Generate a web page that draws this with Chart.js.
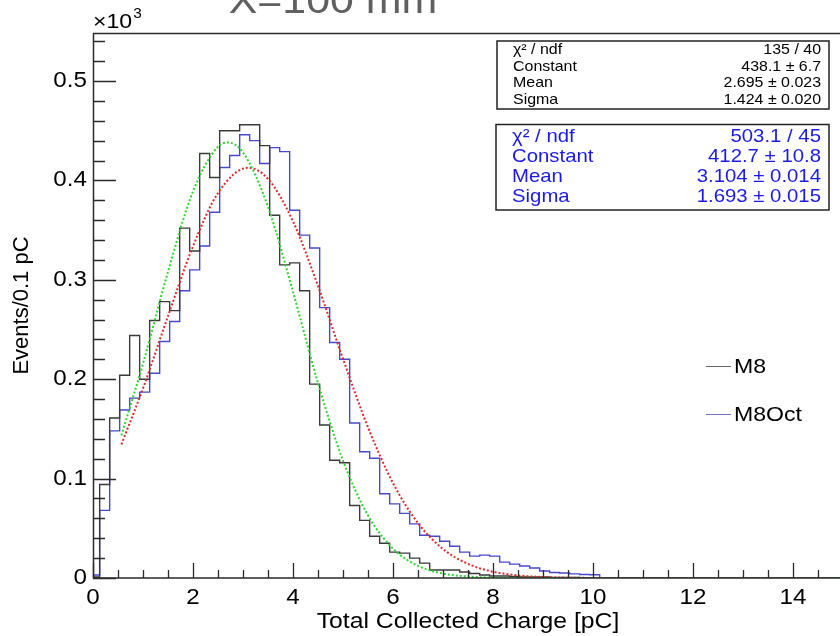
<!DOCTYPE html>
<html>
<head>
<meta charset="utf-8">
<script src="https://cdn.jsdelivr.net/npm/chart.js@4.4.1/dist/chart.umd.min.js"></script>
<style>
  html, body { margin: 0; padding: 0; background: #fff; }
  canvas { display: block; }
</style>
</head>
<body>
<canvas id="myChart" width="840" height="636"></canvas>
<script>
// histogram binning (pC)
const binLow = -0.0667;
const binWidth = 0.2;

// bin contents in units of 10^3 events, first bin starts at binLow
const m8Counts = [
  0.001, 0.094, 0.161, 0.204, 0.244, 0.200, 0.259, 0.278, 0.269, 0.352,
  0.329, 0.427, 0.403, 0.450, 0.450, 0.456, 0.456, 0.435, 0.365, 0.315,
  0.317, 0.289, 0.195, 0.154, 0.1185, 0.116, 0.073, 0.058, 0.042, 0.035,
  0.026, 0.025, 0.020, 0.015, 0.008, 0.008, 0.008, 0.006, 0.0045, 0.003,
  0.002, 0.002, 0.0015, 0.001, 0.001, 0.001, 0.0005, 0.0005, 0.0005, 0, 0
];
const m8OctCounts = [
  0.003, 0.068, 0.148, 0.169, 0.181, 0.187, 0.206, 0.238, 0.258, 0.289,
  0.310, 0.334, 0.368, 0.413, 0.425, 0.446, 0.440, 0.417, 0.433, 0.429,
  0.370, 0.345, 0.332, 0.272, 0.237, 0.220, 0.156, 0.127, 0.1205, 0.0847,
  0.0746, 0.065, 0.0545, 0.043, 0.042, 0.037, 0.032, 0.026, 0.022, 0.023,
  0.022, 0.016, 0.014, 0.012, 0.010, 0.007, 0.0055, 0.005, 0.0042, 0.0035, 0.0033
];

// gaus fit curves
const m8FitX = [0.567, 1.0, 1.5, 2.0, 2.5, 2.7, 3.0, 3.5, 4.0, 4.5, 5.0, 5.5, 6.0, 6.5, 7.0, 7.5, 8.0, 9.0, 15];
const m8FitY = [0.1434, 0.2157, 0.3081, 0.3889, 0.4340, 0.4381, 0.4282, 0.3734, 0.2879, 0.1962, 0.1182, 0.0630, 0.0296, 0.0123, 0.0045, 0.0015, 0.0004, 0.0, 0];
const octFitX = [0.567, 1.0, 1.5, 2.0, 2.5, 3.1, 3.5, 4.0, 4.5, 5.0, 5.5, 6.0, 6.5, 7.0, 7.5, 8.0, 8.5, 9.0, 10.0, 15];
const octFitY = [0.1343, 0.1907, 0.2635, 0.3337, 0.3873, 0.4127, 0.4016, 0.3588, 0.2938, 0.2205, 0.1516, 0.0955, 0.0552, 0.0292, 0.0142, 0.0063, 0.0026, 0.0010, 0.0001, 0];

// axis ticks
const xTicks = [0, 2, 4, 6, 8, 10, 12, 14];
const yTicks = [0, 0.1, 0.2, 0.3, 0.4, 0.5];
const yTickLabels = ['0', '0.1', '0.2', '0.3', '0.4', '0.5'];

// stats boxes
const statsLabels = ['χ² / ndf', 'Constant', 'Mean', 'Sigma'];
const m8Stats = ['135 / 40', '438.1 ± 6.7', '2.695 ± 0.023', '1.424 ± 0.020'];
const octStats = ['503.1 / 45', '412.7 ± 10.8', '3.104 ± 0.014', '1.693 ± 0.015'];

const legendNames = ['M8', 'M8Oct'];

function histPoints(counts) {
  const pts = counts.map((v, i) => ({ x: binLow + i * binWidth, y: v }));
  pts.push({ x: binLow + counts.length * binWidth, y: 0 });
  pts.push({ x: 15, y: 0 });
  return pts;
}
function curvePoints(xs, ys) {
  return xs.map((x, i) => ({ x: x, y: ys[i] }));
}

const FONT = '"Liberation Sans", Arial, Helvetica, sans-serif';
const SX = 1.1; // text is a bit wide in the original

function drawText(ctx, str, x, y, size, align, color, baseline) {
  ctx.save();
  ctx.font = size + 'px ' + FONT;
  ctx.fillStyle = color;
  ctx.textBaseline = baseline || 'middle';
  ctx.textAlign = 'left';
  const w = ctx.measureText(str).width * SX;
  let x0 = x;
  if (align === 'right') x0 = x - w;
  else if (align === 'center') x0 = x - w / 2;
  ctx.translate(x0, y);
  ctx.scale(SX, 1);
  ctx.fillText(str, 0, 0);
  ctx.restore();
  return w;
}

const rootFrame = {
  id: 'rootFrame',
  afterDraw(chart) {
    const ctx = chart.ctx;
    const a = chart.chartArea;
    const xs = chart.scales.x, ys = chart.scales.y;

    ctx.save();
    ctx.strokeStyle = '#2a2a2a';
    ctx.lineWidth = 1.5;
    // frame
    ctx.beginPath();
    ctx.moveTo(a.right + 2, a.top + 0.5);
    ctx.lineTo(a.left + 0.5, a.top + 0.5);
    ctx.lineTo(a.left + 0.5, a.bottom);
    ctx.lineTo(a.right + 2, a.bottom);
    ctx.stroke();

    // y ticks (inward)
    ctx.lineWidth = 1.3;
    ctx.beginPath();
    for (let v = 0; v <= 0.5401; v += 0.02) {
      const py = Math.round(ys.getPixelForValue(v)) + 0.5;
      const major = Math.abs(v * 10 - Math.round(v * 10)) < 1e-6;
      ctx.moveTo(a.left, py);
      ctx.lineTo(a.left + (major ? 23 : 12), py);
    }
    // x ticks (inward)
    for (let v = 0; v <= 14.9; v += 0.5) {
      const px = Math.round(xs.getPixelForValue(v)) + 0.5;
      const major = Math.abs(v / 2 - Math.round(v / 2)) < 1e-6;
      ctx.moveTo(px, a.bottom);
      ctx.lineTo(px, a.bottom - (major ? 15 : 8));
    }
    ctx.stroke();
    ctx.restore();

    // tick labels
    yTicks.forEach((v, i) => {
      drawText(ctx, yTickLabels[i], 87, ys.getPixelForValue(v), 22, 'right', '#000');
    });
    xTicks.forEach(v => {
      drawText(ctx, String(v), xs.getPixelForValue(v), 598, 22, 'center', '#000');
    });

    // axis titles
    drawText(ctx, 'Total Collected Charge [pC]', 468, 622, 22.5, 'center', '#000');
    ctx.save();
    ctx.translate(22, (a.top + a.bottom) / 2);
    ctx.rotate(-Math.PI / 2);
    ctx.font = '22px ' + FONT;
    ctx.fillStyle = '#000';
    ctx.textAlign = 'center';
    ctx.textBaseline = 'middle';
    ctx.fillText('Events/0.1 pC', 0, 0);
    ctx.restore();

    // exponent
    const w10 = drawText(ctx, '×10', 93, 22, 21, 'left', '#000');
    drawText(ctx, '3', 93 + w10 + 1, 14, 14, 'left', '#000');

    // title (cut at top)
    drawText(ctx, 'X=100 mm', 333, 13, 39, 'center', '#606060', 'alphabetic');

    // stats boxes
    function statsBox(x0, y0, x1, y1, rows, values, size, color) {
      ctx.save();
      ctx.fillStyle = '#fff';
      ctx.fillRect(x0, y0, x1 - x0, y1 - y0);
      ctx.strokeStyle = '#222';
      ctx.lineWidth = 1.5;
      ctx.strokeRect(x0, y0, x1 - x0, y1 - y0);
      ctx.restore();
      rows.forEach((ry, i) => {
        drawText(ctx, statsLabels[i], x0 + 16, ry, size, 'left', color);
        drawText(ctx, values[i], x1 - 8, ry, size, 'right', color);
      });
    }
    statsBox(497, 41, 829, 109, [50, 66.5, 83, 99.5], m8Stats, 14.5, '#000');
    statsBox(496, 124.5, 829, 210, [137, 157, 177, 196.5], octStats, 18.5, '#1a1ae6');

    // legend
    const legendRows = [{ y: 366, c: '#666' }, { y: 414, c: '#7070d0' }];
    legendRows.forEach((r, i) => {
      ctx.save();
      ctx.strokeStyle = r.c;
      ctx.lineWidth = 1;
      ctx.beginPath();
      ctx.moveTo(706, r.y + 0.5);
      ctx.lineTo(731, r.y + 0.5);
      ctx.stroke();
      ctx.restore();
      drawText(ctx, legendNames[i], 734, r.y + 1.5, 21, 'left', '#000');
    });
  }
};

const ctx = document.getElementById('myChart').getContext('2d');
new Chart(ctx, {
  type: 'line',
  data: {
    datasets: [
      {
        label: 'M8 fit',
        data: curvePoints(m8FitX, m8FitY),
        borderColor: '#2fd52f',
        borderWidth: 2,
        borderDash: [2, 2],
        pointRadius: 0,
        cubicInterpolationMode: 'monotone',
        fill: false,
        order: 0
      },
      {
        label: 'M8Oct fit',
        data: curvePoints(octFitX, octFitY),
        borderColor: '#dd2a2a',
        borderWidth: 2,
        borderDash: [2, 2],
        pointRadius: 0,
        cubicInterpolationMode: 'monotone',
        fill: false,
        order: 0
      },
      {
        label: legendNames[0],
        data: histPoints(m8Counts),
        borderColor: '#3a3a3a',
        borderWidth: 1.4,
        stepped: 'before',
        pointRadius: 0,
        fill: false,
        order: 1
      },
      {
        label: legendNames[1],
        data: histPoints(m8OctCounts),
        borderColor: '#4848c8',
        borderWidth: 1.4,
        stepped: 'before',
        pointRadius: 0,
        fill: false,
        order: 1
      }
    ]
  },
  options: {
    responsive: false,
    animation: false,
    devicePixelRatio: 1,
    layout: { padding: { left: 93, top: 33, right: 0, bottom: 58 } },
    scales: {
      x: { type: 'linear', min: 0, max: 14.94, display: false },
      y: { type: 'linear', min: 0, max: 0.5483, display: false }
    },
    plugins: {
      legend: { display: false },
      tooltip: { enabled: false },
      title: { display: false }
    }
  },
  plugins: [rootFrame]
});
</script>
</body>
</html>
